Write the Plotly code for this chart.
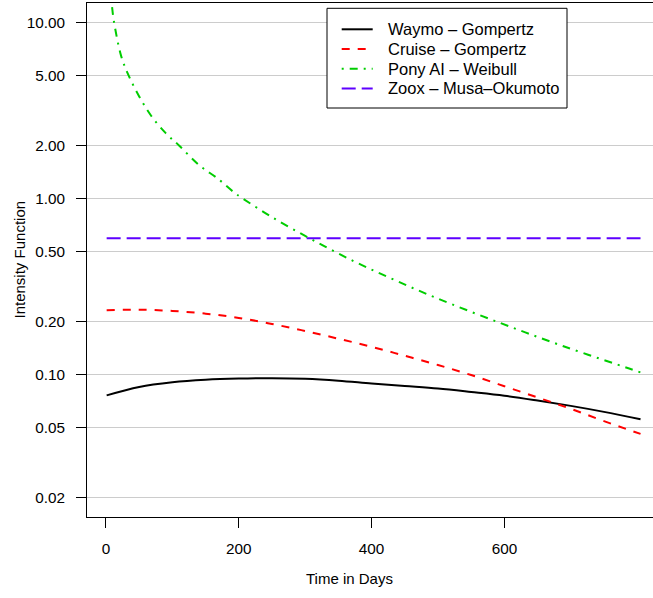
import plotly.graph_objects as go

# ---- data ----
days = [1, 50, 100, 150, 200, 250, 300, 350, 400, 450, 500, 550, 600, 650, 700, 750, 805]
waymo = [0.0763, 0.0852, 0.0905, 0.0935, 0.0950, 0.0955, 0.0948, 0.0925, 0.0892, 0.0863,
         0.0835, 0.0798, 0.0760, 0.0713, 0.0665, 0.0615, 0.0558]
cruise = [0.232, 0.234, 0.230, 0.222, 0.210, 0.194, 0.177, 0.160, 0.144, 0.128,
          0.1135, 0.0995, 0.0860, 0.0742, 0.0640, 0.0545, 0.0461]
zoox = [0.595, 0.595, 0.595, 0.595, 0.595, 0.595, 0.595, 0.595, 0.595, 0.595,
        0.595, 0.595, 0.595, 0.595, 0.595, 0.595, 0.595]

pony_days = [1, 3, 6, 9, 12, 23, 34, 50, 68, 90, 110, 140, 168, 192, 206, 252, 310,
             373, 433, 497, 593, 689, 789, 805]
pony = [57, 26.7, 16.4, 12.4, 10.1, 6.41, 5.0, 3.80, 2.95, 2.35, 2.0, 1.55, 1.30, 1.09,
        1.0, 0.776, 0.585, 0.441, 0.347, 0.273, 0.197, 0.145, 0.108, 0.103]

names = ["Waymo – Gompertz", "Cruise – Gompertz", "Pony AI – Weibull", "Zoox – Musa–Okumoto"]

y_ticks = [0.02, 0.05, 0.1, 0.2, 0.5, 1, 2, 5, 10]
y_ticktext = ["0.02", "0.05", "0.10", "0.20", "0.50", "1.00", "2.00", "5.00", "10.00"]
x_ticks = [0, 200, 400, 600]

FONT = "Liberation Sans, Arial, Helvetica, sans-serif"

styles = [
    dict(color="black", width=2),
    dict(color="#FF0000", width=2, dash="8px,8px"),
    dict(color="#00CD00", width=2, dash="2px,6px,8px,6px"),
    dict(color="#5E00FF", width=2, dash="14px,6px"),
]
series = [(days, waymo, "spline"), (days, cruise, "spline"),
          (pony_days, pony, "spline"), (days, zoox, "linear")]

fig = go.Figure()
for (xs, ys, shp), nm, st in zip(series, names, styles):
    fig.add_trace(go.Scatter(x=xs, y=ys, mode="lines", name=nm, line_shape=shp,
                             line=st, showlegend=False))

# ---- plot geometry (pixels) ----
W, H = 653, 598
ML, MR, MT, MB = 87, 0, 3, 81
PW, PH = W - ML - MR, H - MT - MB


def px(x):
    return (x - ML) / PW


def py(y):
    return (H - MB - y) / PH


# ---- legend drawn as a boxed key ----
shapes = [dict(type="rect", xref="paper", yref="paper", x0=px(327), x1=px(567),
               y0=py(108), y1=py(8.3), line=dict(color="black", width=1),
               fillcolor="white", layer="above")]
annotations = []
rows = [29.3, 49.0, 68.7, 88.4]
for r, nm, st in zip(rows, names, styles):
    shapes.append(dict(type="line", xref="paper", yref="paper", x0=px(341.7), x1=px(372.7),
                       y0=py(r), y1=py(r), line=st, layer="above"))
    annotations.append(dict(text=nm, xref="paper", yref="paper", x=px(386), y=py(r),
                            xanchor="left", yanchor="middle", showarrow=False,
                            font=dict(size=16.5, color="black")))

annotations += [
    dict(text="Time in Days", xref="paper", yref="paper", x=px(349), y=py(578),
         xanchor="center", yanchor="middle", showarrow=False, font=dict(size=15)),
    dict(text="Intensity Function", xref="paper", yref="paper", x=px(18.5), y=0.5,
         xanchor="center", yanchor="middle", showarrow=False, textangle=-90,
         font=dict(size=15)),
]

fig.update_layout(
    width=W, height=H,
    margin=dict(l=ML, r=MR, t=MT, b=MB),
    paper_bgcolor="white", plot_bgcolor="white",
    font=dict(family=FONT, size=15, color="black"),
    showlegend=False,
    xaxis=dict(range=[-28.6, 823.8], tickmode="array", tickvals=x_ticks,
               ticks="outside", ticklen=10, tickcolor="black", tickwidth=1,
               showgrid=False, zeroline=False,
               showline=True, linecolor="black", linewidth=1, mirror=True,
               tickfont=dict(size=15.3), ticklabelstandoff=8),
    yaxis=dict(type="log", range=[-1.808, 1.110], tickmode="array", tickvals=y_ticks,
               ticktext=y_ticktext, ticks="outside", ticklen=10, tickcolor="black",
               tickwidth=1, showgrid=True, gridcolor="#CCCCCC", gridwidth=1,
               zeroline=False, showline=True, linecolor="black", linewidth=1, mirror=False,
               tickfont=dict(size=15.3), ticklabelstandoff=8),
    shapes=shapes,
    annotations=annotations,
)

fig.write_html("out.html", config={"displayModeBar": False})
